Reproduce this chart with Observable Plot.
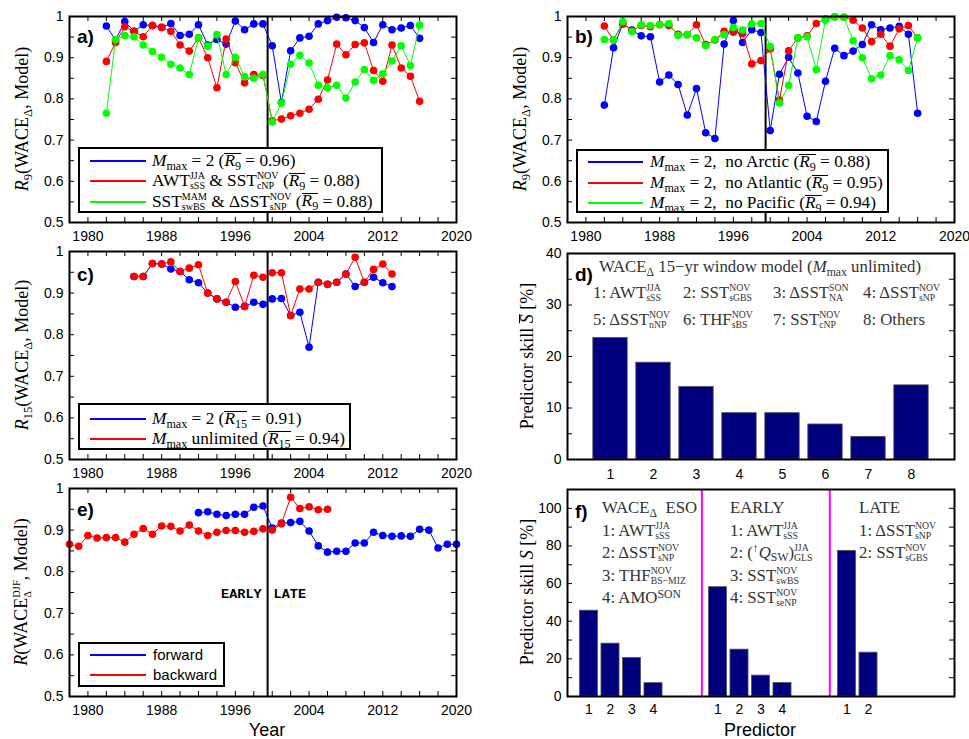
<!DOCTYPE html>
<html><head><meta charset="utf-8">
<script src="https://cdn.jsdelivr.net/npm/d3@7"></script>
<script src="https://cdn.jsdelivr.net/npm/@observablehq/plot@0.6"></script>
<style>
body{margin:0;background:#fff;}
#root{position:relative;width:969px;height:739px;overflow:hidden;background:#fff;font-family:"Liberation Sans",Arial,sans-serif;color:#000;}
#root svg{position:absolute;}
.t{position:absolute;white-space:nowrap;transform:translateY(-50%);line-height:18px;}
.c{transform:translate(-50%,-50%);}
.math{font-family:"Liberation Serif","Times New Roman",serif;font-size:17.3px;}
.dm{font-family:"Liberation Serif","Times New Roman",serif;font-size:16.8px;color:#333;}
.ylab{position:absolute;white-space:nowrap;transform:translate(-50%,-50%) rotate(-90deg);font-family:"Liberation Serif","Times New Roman",serif;font-size:18px;line-height:20px;}
.plab{position:absolute;font-weight:bold;font-size:19px;transform:translateY(-50%);}
sub{font-size:0.7em;vertical-align:-0.3em;line-height:0;}
sup{font-size:0.7em;vertical-align:0.45em;line-height:0;}
.ss{display:inline-block;font-size:0.58em;line-height:1.0;vertical-align:-0.34em;text-align:left;}
.ss>span{display:block;}
.ov{display:inline-block;line-height:0.82em;border-top:1px solid currentColor;}
.leg{position:absolute;border:2px solid #000;background:#fff;box-sizing:border-box;}
.sw{position:absolute;height:2px;}
</style>
</head><body><div id="root"></div>
<script>
// ---------------- data ----------------
const splitYear = 1999.5;
const yearDomain = [1978, 2020];
const rDomain = [0.5, 1];
const yearTickLabels = [1980, 1988, 1996, 2004, 2012, 2020];
const yearMinorTicks = [1980,1982,1984,1986,1988,1990,1992,1994,1996,1998,2000,2002,2004,2006,2008,2010,2012,2014,2016,2018];
const rTickLabels = [0.5, 0.6, 0.7, 0.8, 0.9, 1];
const rMinorTicks = [0.55,0.6,0.65,0.7,0.75,0.8,0.85,0.9,0.95];

// panel a (start 1982)
const aStart = 1982;
const aBlue  = [0.977,0.943,0.988,0.964,0.980,0.978,0.974,0.983,0.954,0.957,0.980,0.931,0.944,0.933,0.989,0.968,0.982,0.982,0.929,0.791,0.917,0.948,0.952,0.982,0.990,0.998,0.997,0.990,0.973,0.937,0.980,0.968,0.972,0.978,0.947];
const aRed   = [0.891,0.937,0.975,0.964,0.951,0.978,0.973,0.964,0.931,0.916,0.948,0.900,0.827,0.945,0.888,0.839,0.859,0.857,0.747,0.751,0.759,0.765,0.775,0.799,0.846,0.933,0.907,0.932,0.936,0.869,0.843,0.931,0.875,0.855,0.794];
const aGreen = [0.765,0.944,0.954,0.951,0.931,0.915,0.901,0.884,0.875,0.859,0.948,0.928,0.956,0.859,0.901,0.854,0.850,0.859,0.744,0.790,0.884,0.906,0.887,0.833,0.827,0.833,0.802,0.841,0.871,0.845,0.861,0.892,0.929,0.881,0.979];

// panel b (start 1982)
const bStart = 1982;
const bBlue  = [0.785,0.924,0.982,0.967,0.953,0.951,0.841,0.858,0.835,0.761,0.825,0.718,0.704,0.933,0.990,0.937,0.968,0.961,0.723,0.860,0.901,0.863,0.758,0.745,0.843,0.923,0.905,0.916,0.932,0.980,0.968,0.972,0.976,0.957,0.765];
const bRed   = [0.977,0.943,0.983,0.965,0.978,0.975,0.980,0.978,0.957,0.956,0.980,0.932,0.943,0.964,0.962,0.959,0.885,0.893,0.921,0.797,0.917,0.948,0.953,0.983,0.994,0.999,0.998,0.991,0.972,0.939,0.957,0.928,0.970,0.978,0.948];
const bGreen = [0.944,0.943,0.988,0.963,0.980,0.978,0.980,0.983,0.954,0.956,0.948,0.929,0.944,0.956,0.973,0.967,0.982,0.983,0.927,0.790,0.833,0.948,0.951,0.871,0.991,0.999,0.998,0.941,0.900,0.849,0.858,0.905,0.895,0.869,0.948];

// panel c (start 1985)
const cStart = 1985;
const cBlue = [0.940,0.940,0.971,0.970,0.958,0.952,0.932,0.925,0.900,0.886,0.878,0.866,0.868,0.878,0.873,0.886,0.887,0.846,0.854,0.770,0.926,0.921,0.926,0.946,0.916,0.926,0.938,0.925,0.916];
const cRed  = [0.940,0.940,0.971,0.970,0.975,0.952,0.960,0.968,0.900,0.886,0.878,0.928,0.868,0.943,0.938,0.949,0.949,0.846,0.910,0.910,0.926,0.921,0.926,0.946,0.986,0.926,0.957,0.970,0.946];

// panel e
const eForwardStart = 1992;
const eForward  = [0.942,0.944,0.938,0.935,0.938,0.938,0.955,0.958,0.905,0.917,0.918,0.921,0.898,0.862,0.847,0.849,0.849,0.869,0.869,0.895,0.887,0.885,0.886,0.885,0.902,0.900,0.857,0.866,0.866];
const eBackwardStart = 1978;
const eBackward = [0.866,0.861,0.887,0.881,0.882,0.882,0.871,0.890,0.904,0.890,0.910,0.909,0.898,0.912,0.898,0.887,0.895,0.899,0.899,0.895,0.897,0.903,0.900,0.915,0.979,0.952,0.956,0.949,0.950];
const periodLabels = ["EARLY", "LATE"];
const periodLabelY = 0.748;

// panel d
const dPredictors = [1,2,3,4,5,6,7,8];
const dSkill = [23.6,18.8,14.1,9.0,9.0,6.8,4.4,14.4];
const dTickLabels = [0,10,20,30,40];
const dMinorTicks = [5,10,15,20,25,30,35];

// panel f
const fPositions = [1,2,3,4,7,8,9,10,13,14];
const fTickText  = ["1","2","3","4","1","2","3","4","1","2"];
const fSkill = [45.6,28.1,20.5,7.1, 58.1,24.9,11.1,7.2, 77.4,23.3];
const fSeparators = [6.25, 12.2];
const fTickLabels = [0,20,40,60,80,100];
const fMinorTicks = [10,20,30,40,50,60,70,80,90,100];

const BLUE = "#0000ff", RED = "#ff0000", GREEN = "#00ff00", BAR = "#00007f";

// ---------------- helpers ----------------
const root = document.getElementById("root");
const FONT = '"Liberation Sans", Arial, sans-serif';
const series = (start, vals) => vals.map((v, i) => ({year: start + i, v}));

function panel({fx, fy, fw, fh, xDomain, yDomain, xTicks, xFormat, xMinor, xPad, yTicks, yMinor, marks}) {
  const ml = 50, mr = 20, mt = 10, mb = 34;
  const m = [
    Plot.axisX({ticks: xTicks, tickSize: 0, tickPadding: xPad, tickFormat: xFormat, fontSize: 14}),
    Plot.axisY({ticks: yTicks, tickSize: 0, tickPadding: 6, tickFormat: d => String(d), fontSize: 14}),
    Plot.tickY(yMinor, {y: d => d, insetRight: fw - 5, stroke: "#000"}),
    Plot.tickY(yMinor, {y: d => d, insetLeft: fw - 5, stroke: "#000"})
  ];
  if (xMinor) {
    m.push(Plot.tickX(xMinor, {x: d => d, insetTop: fh - 5, stroke: "#000"}));
    m.push(Plot.tickX(xMinor, {x: d => d, insetBottom: fh - 5, stroke: "#000"}));
  }
  m.push(...marks);
  m.push(Plot.frame({stroke: "#000", strokeWidth: 2}));
  const svg = Plot.plot({
    width: fw + ml + mr, height: fh + mt + mb,
    marginLeft: ml, marginRight: mr, marginTop: mt, marginBottom: mb,
    x: {domain: xDomain, label: null},
    y: {domain: yDomain, label: null},
    style: {fontFamily: FONT, fontSize: "14px", background: "none", overflow: "visible", color: "#000"},
    marks: m
  });
  svg.style.left = (fx - ml) + "px";
  svg.style.top = (fy - mt) + "px";
  root.appendChild(svg);
}

function lineDots(data, color) {
  return [
    Plot.line(data, {x: "year", y: "v", stroke: color, strokeWidth: 1}),
    Plot.dot(data, {x: "year", y: "v", fill: color, r: 3.8})
  ];
}

function tsPanel(fx, fy, fh, seriesList, extra = []) {
  const marks = [Plot.ruleX([splitYear], {stroke: "#000", strokeWidth: 2})];
  for (const [data, color] of seriesList) marks.push(...lineDots(data, color));
  marks.push(...extra);
  panel({fx, fy, fw: 387, fh, xDomain: yearDomain, yDomain: rDomain,
    xTicks: yearTickLabels, xFormat: d => String(d), xMinor: yearMinorTicks, xPad: 9,
    yTicks: rTickLabels, yMinor: rMinorTicks, marks});
}

function html(cls, x, y, content, style = "") {
  const d = document.createElement("div");
  d.className = cls;
  d.style.left = x + "px"; d.style.top = y + "px";
  if (style) d.style.cssText += style;
  d.innerHTML = content;
  root.appendChild(d);
  return d;
}
function legendBox(x, y, w, h) {
  const d = document.createElement("div");
  d.className = "leg";
  Object.assign(d.style, {left: x + "px", top: y + "px", width: w + "px", height: h + "px"});
  root.appendChild(d);
}
function legendRows(rows, lx1, lx2, tx, cls, style = "") {
  for (const r of rows) {
    const s = document.createElement("div");
    s.className = "sw";
    s.style.left = lx1 + "px";
    s.style.width = (lx2 - lx1) + "px";
    s.style.top = (Math.round(r.y) - 1) + "px";
    s.style.backgroundColor = r.color;
    root.appendChild(s);
    html("t " + cls, tx, r.y, r.text, style);
  }
}

const sub = s => `<sub>${s}</sub>`;
const ss = (sp, sb) => `<span class="ss"><span>${sp}</span><span>${sb}</span></span>`;
const ov = s => `<span class="ov">${s}</span>`;
const Mmax = `<i>M</i>${sub("max")}`;
const R9 = ov(`<i>R</i>${sub("9")}`);
const R15 = ov(`<i>R</i>${sub("15")}`);
const WACE = `WACE${sub("Δ")}`;

// ---------------- panels ----------------
tsPanel(69, 16, 206, [[series(aStart, aBlue), BLUE], [series(aStart, aRed), RED], [series(aStart, aGreen), GREEN]]);
tsPanel(567, 16, 206, [[series(bStart, bBlue), BLUE], [series(bStart, bRed), RED], [series(bStart, bGreen), GREEN]]);
tsPanel(69, 251, 208, [[series(cStart, cBlue), BLUE], [series(cStart, cRed), RED]]);
tsPanel(69, 488, 208, [[series(eForwardStart, eForward), BLUE], [series(eBackwardStart, eBackward), RED]], [
  Plot.text([periodLabels[0]], {x: splitYear, y: periodLabelY, text: d => d, dx: -6, textAnchor: "end", fontFamily: '"Liberation Mono", monospace', fontWeight: "bold", fontSize: 13.5, fill: "#000"}),
  Plot.text([periodLabels[1]], {x: splitYear, y: periodLabelY, text: d => d, dx: 6, textAnchor: "start", fontFamily: '"Liberation Mono", monospace', fontWeight: "bold", fontSize: 13.5, fill: "#000"})
]);

const dData = dPredictors.map((p, i) => ({p, v: dSkill[i]}));
panel({fx: 567, fy: 253, fw: 387, fh: 206, xDomain: [0, 9], yDomain: [0, 40],
  xTicks: dPredictors, xFormat: d => String(d), xMinor: null, xPad: 10,
  yTicks: dTickLabels, yMinor: dMinorTicks,
  marks: [Plot.rectY(dData, {x1: d => d.p - 0.4, x2: d => d.p + 0.4, y: "v", fill: BAR, stroke: "#555", strokeWidth: 0.8})]});

const fData = fPositions.map((p, i) => ({p, v: fSkill[i]}));
panel({fx: 567, fy: 489, fw: 387, fh: 207, xDomain: [0, 18], yDomain: [0, 110],
  xTicks: fPositions, xFormat: d => fTickText[fPositions.indexOf(d)], xMinor: null, xPad: 8,
  yTicks: fTickLabels, yMinor: fMinorTicks,
  marks: [
    Plot.ruleX(fSeparators, {stroke: "#ff00ff", strokeWidth: 2}),
    Plot.rectY(fData, {x1: d => d.p - 0.42, x2: d => d.p + 0.42, y: "v", fill: BAR, stroke: "#555", strokeWidth: 0.8})
  ]});

// ---------------- legends ----------------
legendBox(78, 147, 305, 66);
legendRows([
  {y: 160.5, color: BLUE, text: `${Mmax} = 2 (${R9} = 0.96)`},
  {y: 181, color: RED, text: `AWT${ss("JJA","sSS")} &amp; SST${ss("NOV","cNP")} (${R9} = 0.88)`},
  {y: 201.5, color: GREEN, text: `SST${ss("MAM","swBS")} &amp; ΔSST${ss("NOV","sNP")} (${R9} = 0.88)`}
], 90, 146, 152, "math");

legendBox(576, 149, 313, 64);
legendRows([
  {y: 162, color: BLUE, text: `${Mmax} = 2,&nbsp; no Arctic (${R9} = 0.88)`},
  {y: 182.5, color: RED, text: `${Mmax} = 2,&nbsp; no Atlantic (${R9} = 0.95)`},
  {y: 203, color: GREEN, text: `${Mmax} = 2,&nbsp; no Pacific (${R9} = 0.94)`}
], 588, 643, 650, "math");

legendBox(78, 403, 273, 47);
legendRows([
  {y: 419, color: BLUE, text: `${Mmax} = 2 (${R15} = 0.91)`},
  {y: 439, color: RED, text: `${Mmax} unlimited (${R15} = 0.94)`}
], 90, 146, 152, "math");

legendBox(78, 642, 147, 45);
legendRows([
  {y: 655, color: BLUE, text: "forward"},
  {y: 674.5, color: RED, text: "backward"}
], 90, 146, 153, "", "font-size:15px;");

// ---------------- panel d / f annotations ----------------
html("t c dm", 760, 267, `${WACE} 15−yr window model (${Mmax} unlimited)`);
const dNames = [
  [593, 293, `1: AWT${ss("JJA","sSS")}`], [683, 293, `2: SST${ss("NOV","sGBS")}`],
  [773, 293, `3: ΔSST${ss("SON","NA")}`], [863, 293, `4: ΔSST${ss("NOV","sNP")}`],
  [593, 320, `5: ΔSST${ss("NOV","nNP")}`], [683, 320, `6: THF${ss("NOV","sBS")}`],
  [773, 320, `7: SST${ss("NOV","cNP")}`], [863, 320, `8: Others`]
];
for (const [x, y, t] of dNames) html("t dm", x, y, t);

const fNames = [
  [602, 508, `${WACE}&nbsp; ESO`], [602, 531, `1: AWT${ss("JJA","sSS")}`], [602, 553, `2: ΔSST${ss("NOV","sNP")}`],
  [602, 576, `3: THF${ss("NOV","BS−MIZ")}`], [602, 598, `4: AMO<sup>SON</sup>`],
  [730, 508, `EARLY`], [730, 531, `1: AWT${ss("JJA","sSS")}`], [730, 553, `2: (<sup>↑</sup><i>Q</i>${sub("SW")})${ss("JJA","GLS")}`],
  [730, 576, `3: SST${ss("NOV","swBS")}`], [730, 598, `4: SST${ss("NOV","seNP")}`],
  [859, 508, `LATE`], [859, 531, `1: ΔSST${ss("NOV","sNP")}`], [859, 553, `2: SST${ss("NOV","sGBS")}`]
];
for (const [x, y, t] of fNames) html("t dm", x, y, t);

// ---------------- panel labels & axis titles ----------------
const panelLabels = [["a)", 77, 37], ["b)", 575, 37], ["c)", 77, 275], ["d)", 575, 275], ["e)", 77, 510], ["f)", 575, 512]];
for (const [t, x, y] of panelLabels) html("plab", x, y, t);

html("ylab", 22, 119, `<i>R</i>${sub("9")}(${WACE}, Model)`);
html("ylab", 520, 119, `<i>R</i>${sub("9")}(${WACE}, Model)`);
html("ylab", 22, 355, `<i>R</i>${sub("15")}(${WACE}, Model)`);
html("ylab", 22, 592, `<i>R</i>(WACE${ss("DJF","Δ")}, Model)`);
html("ylab", 527, 356, `Predictor skill ${ov("<i>S</i>")} [%]`);
html("ylab", 527, 592, `Predictor skill <i>S</i> [%]`);
html("t c", 267, 730, "Year", "font-size:18px;");
html("t c", 760, 730, "Predictor", "font-size:18px;");
</script>
</body></html>
